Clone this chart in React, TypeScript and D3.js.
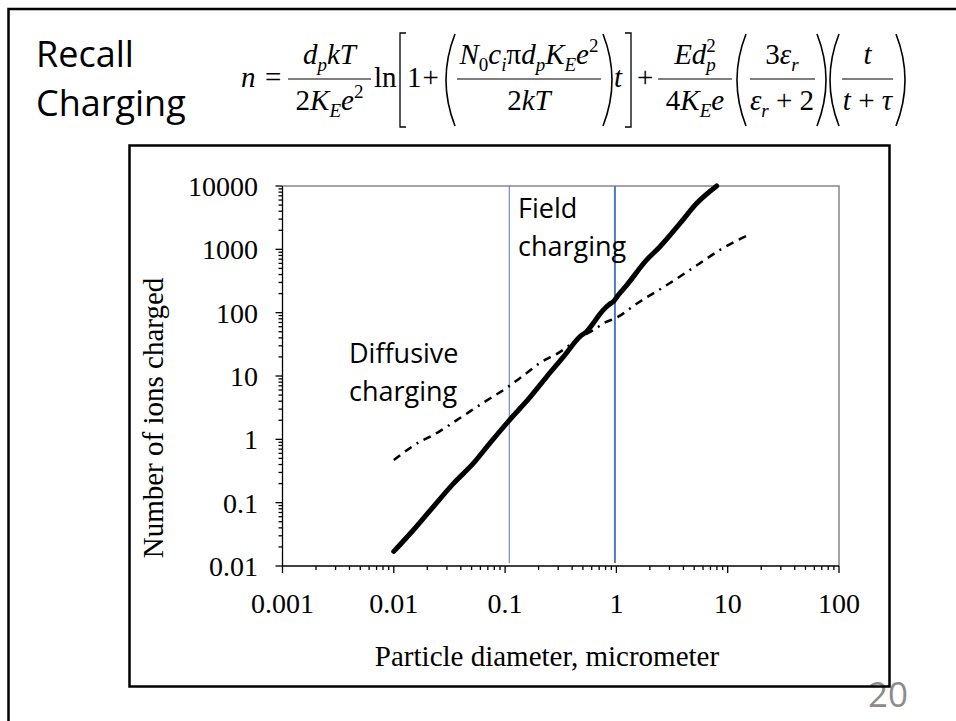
import * as d3 from "d3";

const xTickLabels = ["0.001", "0.01", "0.1", "1", "10", "100"];
const yTickLabels = ["0.01", "0.1", "1", "10", "100", "1000", "10000"];

// total charge (solid line): particle diameter (um) -> ions
const totalDiam = [0.01, 0.015, 0.0226, 0.0343, 0.052, 0.073, 0.109, 0.167, 0.237, 0.334, 0.471, 0.55, 0.62, 0.7, 0.76, 0.86, 0.94, 1.04, 1.24, 1.87, 2.46, 3.73, 5.27, 7.96];
const totalIons = [0.017, 0.037, 0.086, 0.2, 0.42, 0.87, 2.0, 4.6, 9.8, 20, 42, 52, 68, 92, 110, 135, 150, 190, 273, 680, 1100, 2575, 5330, 10000];

// diffusion charge (dashed line)
const diffDiam = [0.01, 0.0172, 0.0226, 0.039, 0.0594, 0.107, 0.141, 0.214, 0.3, 0.47, 0.62, 0.82, 0.97, 1.62, 2.84, 5.63, 8.5, 15.3];
const diffIons = [0.47, 0.92, 1.17, 2.15, 3.5, 6.8, 9.7, 16.8, 23, 40, 53, 72, 81, 149, 273, 603, 977, 1686];

// regime boundaries (vertical blue lines)
const regimeBounds = [0.109, 0.97];

const plot = { left: 282.5, right: 839, top: 186, bottom: 566 };
const serif = "'Liberation Serif', 'Times New Roman', serif";
const sans = "'Open Sans', sans-serif";

const It = ({ children, ...p }: any) => (
  <tspan fontStyle="italic" {...p}>
    {children}
  </tspan>
);

const Paren = ({ x, dir }: { x: number; dir: number }) => (
  <path
    d={`M${x},34 Q${x + dir * 18},80 ${x},126`}
    fill="none"
    stroke="#000"
    strokeWidth={1.6}
  />
);

const Bar = ({ x1, x2 }: { x1: number; x2: number }) => (
  <line x1={x1} x2={x2} y1={79} y2={79} stroke="#000" strokeWidth={1.2} />
);

function Equation() {
  const sub = 19;
  return (
    <g fontFamily={serif} fontSize={29} fill="#000">
      <text x={241} y={87}>
        <It>n</It>
      </text>
      <text x={265} y={87}>=</text>

      <Bar x1={288} x2={371} />
      <text x={329.5} y={64} textAnchor="middle">
        <It>d</It>
        <It fontSize={sub} dy={7}>p</It>
        <It dy={-7}>kT</It>
      </text>
      <text x={329.5} y={110} textAnchor="middle">
        2<It>K</It>
        <It fontSize={sub} dy={7}>E</It>
        <It dy={-7}>e</It>
        <tspan fontSize={sub} dy={-12}>2</tspan>
      </text>

      <text x={374} y={87}>ln</text>
      <path d="M406,33 H400 V127 H406" fill="none" stroke="#000" strokeWidth={1.3} />
      <text x={407} y={87}>
        1<tspan dx={1}>+</tspan>
      </text>

      <Paren x={455} dir={-1} />
      <Bar x1={457} x2={601} />
      <text x={529} y={64} textAnchor="middle">
        <It>N</It>
        <tspan fontSize={sub} dy={7}>0</tspan>
        <It dy={-7}>c</It>
        <It fontSize={sub} dy={7}>i</It>
        <tspan dy={-7}>π</tspan>
        <It>d</It>
        <It fontSize={sub} dy={7}>p</It>
        <It dy={-7}>K</It>
        <It fontSize={sub} dy={7}>E</It>
        <It dy={-7}>e</It>
        <tspan fontSize={sub} dy={-12}>2</tspan>
      </text>
      <text x={529} y={110} textAnchor="middle">
        2<It>kT</It>
      </text>
      <Paren x={603} dir={1} />
      <text x={614} y={87}>
        <It>t</It>
      </text>
      <path d="M625,33 H631 V127 H625" fill="none" stroke="#000" strokeWidth={1.3} />
      <text x={637} y={87}>+</text>

      <Bar x1={658} x2={732} />
      <text x={695} y={64} textAnchor="middle">
        <It>Ed</It>
        <tspan fontSize={sub} dy={-12}>2</tspan>
        <It fontSize={sub} dx={-9.5} dy={19}>p</It>
      </text>
      <text x={695} y={110} textAnchor="middle">
        4<It>K</It>
        <It fontSize={sub} dy={7}>E</It>
        <It dy={-7}>e</It>
      </text>

      <Paren x={746} dir={-1} />
      <Bar x1={750} x2={815} />
      <text x={782} y={64} textAnchor="middle">
        3<It>ε</It>
        <It fontSize={sub} dy={7}>r</It>
      </text>
      <text x={782} y={110} textAnchor="middle">
        <It>ε</It>
        <It fontSize={sub} dy={7}>r</It>
        <tspan dy={-7}> + 2</tspan>
      </text>
      <Paren x={817} dir={1} />

      <Paren x={839} dir={-1} />
      <Bar x1={842} x2={893} />
      <text x={867.5} y={64} textAnchor="middle">
        <It>t</It>
      </text>
      <text x={867.5} y={110} textAnchor="middle">
        <It>t</It> + <It>τ</It>
      </text>
      <Paren x={896} dir={1} />
    </g>
  );
}

export default function App() {
  const x = d3.scaleLog().domain([0.001, 100]).range([plot.left, plot.right]);
  const y = d3.scaleLog().domain([0.01, 10000]).range([plot.bottom, plot.top]);

  const line = d3
    .line<number[]>()
    .x((d) => x(d[0]))
    .y((d) => y(d[1]))
    .curve(d3.curveMonotoneX);

  const totalPts = totalDiam.map((d, i) => [d, totalIons[i]]);
  const diffPts = diffDiam.map((d, i) => [d, diffIons[i]]);

  const isMajor = (v: number) =>
    Math.abs(Math.log10(v) - Math.round(Math.log10(v))) < 1e-6;

  return (
    <svg
      width={956}
      height={721}
      style={{ position: "absolute", left: 0, top: 0, background: "#fff" }}
    >
      <rect width={956} height={721} fill="#fff" />

      {/* slide frame */}
      <path d="M8.5,721 V9 H956" fill="none" stroke="#000" strokeWidth={2.5} />

      <text fontFamily={sans} fontSize={36} fill="#000">
        <tspan x={36} y={67}>Recall</tspan>
        <tspan x={36} y={116}>Charging</tspan>
      </text>

      <Equation />

      <text x={868} y={707} fontFamily={sans} fontSize={35} fill="#8c8c8c">
        20
      </text>

      {/* chart box */}
      <rect x={129.5} y={145.5} width={760} height={541} fill="none" stroke="#000" strokeWidth={2.5} />

      {/* plot frame */}
      <path
        d={`M${plot.left},${plot.top} H${plot.right} V${plot.bottom}`}
        fill="none"
        stroke="#868686"
        strokeWidth={1.5}
      />

      {/* regime boundaries */}
      {regimeBounds.map((d, i) => (
        <line
          key={i}
          x1={x(d)}
          x2={x(d)}
          y1={plot.top}
          y2={plot.bottom - 3}
          stroke="#4a7ebb"
          strokeWidth={i === 0 ? 1 : 2}
        />
      ))}

      {/* axes */}
      <g stroke="#000" strokeWidth={1.3}>
        <line x1={plot.left} x2={plot.left} y1={plot.top} y2={plot.bottom} />
        {y.ticks().map((v, i) => (
          <line
            key={i}
            x1={plot.left}
            x2={plot.left - (isMajor(v) ? 7 : 4)}
            y1={y(v)}
            y2={y(v)}
          />
        ))}
        <line x1={plot.left} x2={plot.right} y1={plot.bottom} y2={plot.bottom} />
        {x.ticks().map((v, i) => (
          <line
            key={i}
            x1={x(v)}
            x2={x(v)}
            y1={plot.bottom}
            y2={plot.bottom + (isMajor(v) ? 7 : 4)}
          />
        ))}
      </g>

      <g fontFamily={serif} fontSize={28} fill="#000">
        {yTickLabels.map((t) => (
          <text key={t} x={258} y={y(+t)} dy={10} textAnchor="end">
            {t}
          </text>
        ))}
        {xTickLabels.map((t) => (
          <text key={t} x={x(+t)} y={613} textAnchor="middle">
            {t}
          </text>
        ))}
      </g>

      <g fontFamily={serif} fontSize={29} fill="#000">
        <text x={547} y={666} textAnchor="middle">
          Particle diameter, micrometer
        </text>
        <text transform="translate(163,418) rotate(-90)" textAnchor="middle">
          Number of ions charged
        </text>
      </g>

      {/* data lines */}
      <path
        d={line(diffPts) || ""}
        fill="none"
        stroke="#000"
        strokeWidth={2.5}
        strokeDasharray="8,6,8,6,2,6"
      />
      <path
        d={line(totalPts) || ""}
        fill="none"
        stroke="#000"
        strokeWidth={5}
        strokeLinecap="round"
        strokeLinejoin="round"
      />

      <g fontFamily={sans} fontSize={27} fill="#000">
        <text>
          <tspan x={349} y={363}>Diffusive</tspan>
          <tspan x={349} y={401}>charging</tspan>
        </text>
        <text>
          <tspan x={518} y={218}>Field</tspan>
          <tspan x={518} y={256}>charging</tspan>
        </text>
      </g>
    </svg>
  );
}
